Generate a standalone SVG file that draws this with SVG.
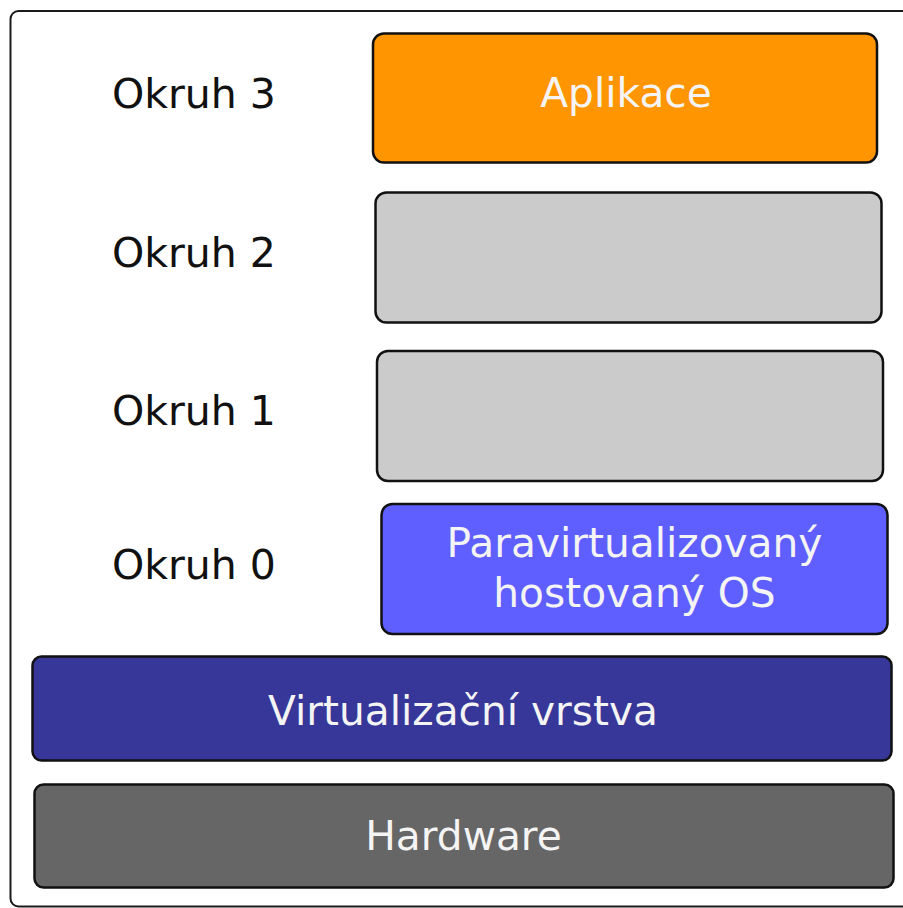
<svg xmlns="http://www.w3.org/2000/svg" width="903" height="908" viewBox="0 0 903 908">
  <style>
    .frame { fill: #ffffff; stroke: #1a1a1a; stroke-width: 2; }
    .box { stroke: #111111; stroke-width: 2.5; }
    .ring { font-family: "DejaVu Sans", Verdana, sans-serif; font-size: 41px; fill: #111111; }
    .lbl { font-family: "DejaVu Sans", Verdana, sans-serif; font-size: 40.7px; fill: #f4f4f4; text-anchor: middle; }
  </style>

  <rect width="903" height="908" fill="#ffffff"/>
  <rect class="frame" x="10.5" y="11" width="905" height="895.5" rx="8"/>

  <g id="ring-labels">
    <text class="ring" x="112" y="108">Okruh 3</text>
    <text class="ring" x="112" y="266.5">Okruh 2</text>
    <text class="ring" x="112" y="425">Okruh 1</text>
    <text class="ring" x="112" y="578.5">Okruh 0</text>
  </g>

  <g id="app">
    <rect class="box" x="373" y="33.5" width="504" height="129" rx="11" fill="#ff9500"/>
    <text class="lbl" x="626" y="107">Aplikace</text>
  </g>

  <g id="ring2">
    <rect class="box" x="375.5" y="192.5" width="506" height="130" rx="11" fill="#cbcbcb"/>
  </g>

  <g id="ring1">
    <rect class="box" x="377" y="351" width="506" height="130" rx="11" fill="#cbcbcb"/>
  </g>

  <g id="guest-os">
    <rect class="box" x="381.5" y="504" width="506" height="130" rx="11" fill="#5f5fff"/>
    <text class="lbl" x="634.5" y="556.5">Paravirtualizovaný</text>
    <text class="lbl" x="634.5" y="607">hostovaný OS</text>
  </g>

  <g id="hypervisor">
    <rect class="box" x="32.5" y="656.5" width="859" height="104" rx="9" fill="#373799"/>
    <text class="lbl" x="463" y="725">Virtualizační vrstva</text>
  </g>

  <g id="hardware">
    <rect class="box" x="34.5" y="784.5" width="859" height="103" rx="9" fill="#666666"/>
    <text class="lbl" x="463.5" y="850">Hardware</text>
  </g>

  <g id="connectors"/>
</svg>
